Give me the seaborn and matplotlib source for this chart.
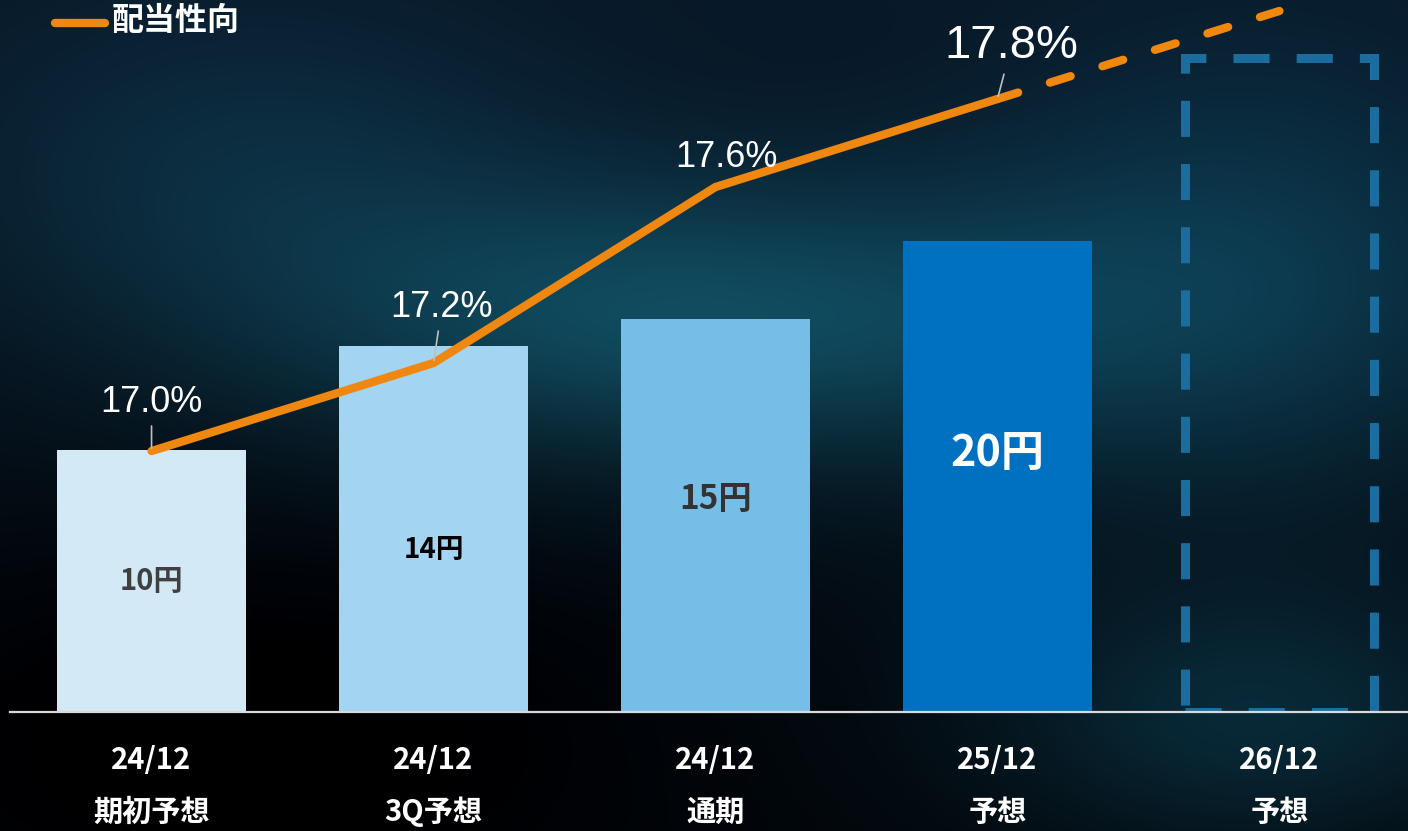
import numpy as np
import pandas as pd
import matplotlib
matplotlib.use("Agg")
import matplotlib.pyplot as plt
import seaborn as sns

# data
periods = ["24/12\n期初予想", "24/12\n3Q予想", "24/12\n通期", "25/12\n予想", "26/12\n予想"]
dividend_labels = ["10円", "14円", "15円", "20円"]
bar_heights = [10, 14, 15, 18]          # drawn heights
placeholder_height = 25                 # dashed box for 26/12
payout = [17.0, 17.2, 17.6, 17.8]       # 配当性向 (%)
payout_forecast = [17.8, 18.0]          # dashed continuation 25/12 -> 26/12
payout_labels = ["17.0%", "17.2%", "17.6%", "17.8%"]

bar_colors = ["#D3E9F6", "#A3D4F1", "#76BDE8", "#0070C0"]
label_colors = ["#404040", "#000000", "#333333", "#FFFFFF"]
label_sizes = [21, 20, 24, 31]
label_y = [5.0, 6.2, 8.1, 9.9]
orange = "#F0870F"

sns.set_theme(style="white")
plt.rcParams["font.family"] = ["Noto Sans CJK JP", "DejaVu Sans"]

W, H = 1408, 831
fig = plt.figure(figsize=(W / 100, H / 100), dpi=100)

# dark "tech" background
yy, xx = np.mgrid[0:H, 0:W]
t = yy / H
bg = np.zeros((H, W, 3))
top = np.array([0.03, 0.09, 0.15])
bot = np.array([0.01, 0.03, 0.05])
bg += top * (1 - t)[..., None] + bot * t[..., None]
def blob(cx, cy, sx, sy, col):
    g = np.exp(-(((xx - cx) / sx) ** 2 + ((yy - cy) / sy) ** 2))
    return g[..., None] * np.array(col)
bg += blob(700, 320, 430, 140, [0.04, 0.22, 0.25])
bg += blob(1250, 280, 300, 230, [0.02, 0.13, 0.16])
bg += blob(1250, 720, 260, 130, [0.02, 0.12, 0.15])
bg += blob(250, 170, 320, 170, [0.02, 0.09, 0.11])
bg -= blob(250, 700, 450, 200, [0.02, 0.05, 0.07])
bg = np.clip(bg, 0, 1)
bgax = fig.add_axes([0, 0, 1, 1], zorder=0)
bgax.imshow(bg, aspect="auto", extent=[0, 1, 0, 1])
bgax.axis("off")

ax = fig.add_axes([10 / W, (H - 712) / H, 1 - 10 / W, 712 / H], zorder=1)
ax.patch.set_alpha(0)

df = pd.DataFrame({"period": periods[:4], "height": bar_heights})
sns.barplot(data=df, x="period", y="height", hue="period", order=periods,
            palette=dict(zip(periods[:4], bar_colors)), width=0.67,
            legend=False, saturation=1, linewidth=0, ax=ax)

# dashed placeholder for the forecast year
ax.bar(4, placeholder_height, width=0.67, fill=False, edgecolor="#1B6DA0",
       linewidth=6.5, linestyle=(0, (4, 3)), zorder=2)

ax.set_xlim(-0.502, 4.456)
ax.set_ylim(0, 27.2)
ax.set_xlabel("")
ax.set_ylabel("")
ax.set_xticks([])
ax.set_yticks([])
for s in ["top", "left", "right"]:
    ax.spines[s].set_visible(False)
ax.spines["bottom"].set_color("#d9d9d9")
ax.spines["bottom"].set_linewidth(1.6)

for i, lab in enumerate(dividend_labels):
    ax.text(i, label_y[i], lab, ha="center", va="center", fontsize=label_sizes[i],
            fontweight="bold", color=label_colors[i], zorder=5)

for i, p in enumerate(periods):
    top_line, bottom_line = p.split("\n")
    ax.text(i, -0.0674, top_line, transform=ax.get_xaxis_transform(), ha="center",
            va="center", fontsize=21, fontweight="bold", color="white")
    ax.text(i, -0.1404, bottom_line, transform=ax.get_xaxis_transform(), ha="center",
            va="center", fontsize=21, fontweight="bold", color="white")

# payout ratio line
ax2 = ax.twinx()
ax2.set_zorder(2)
ax2.patch.set_alpha(0)
sns.lineplot(x=[0, 1, 2, 3], y=payout, ax=ax2, color=orange, linewidth=6,
             solid_capstyle="round", solid_joinstyle="miter")
ax2.plot([3, 4], payout_forecast, color=orange, linewidth=6,
         linestyle=(0, (2.6, 4)), dash_capstyle="round")
ax2.set_ylim(16.407, 18.025)
ax2.set_yticks([])
ax2.set_ylabel("")
for s in ax2.spines.values():
    s.set_visible(False)

offsets = [(0, 35), (6, 40), (8, 21), (10, 38)]
sizes = [26, 26, 26, 34]
leaders = [True, True, False, True]
for i, lab in enumerate(payout_labels):
    ap = dict(arrowstyle="-", color="#bfbfbf", lw=1.2, shrinkA=2, shrinkB=2) if leaders[i] else None
    ax2.annotate(lab, xy=(i, payout[i]), xytext=offsets[i], textcoords="offset points",
                 ha="center", va="center", fontsize=sizes[i], color="white",
                 family=["Liberation Sans", "DejaVu Sans"], arrowprops=ap)

# legend
fig.add_artist(plt.Line2D([55 / W, 105 / W], [1 - 23 / H, 1 - 23 / H], color=orange,
                          linewidth=6, solid_capstyle="round"))
fig.text(112 / W, 1 - 21 / H, "配当性向", ha="left", va="center", fontsize=23,
         fontweight="bold", color="white")

fig.savefig("out.png", dpi=100)
